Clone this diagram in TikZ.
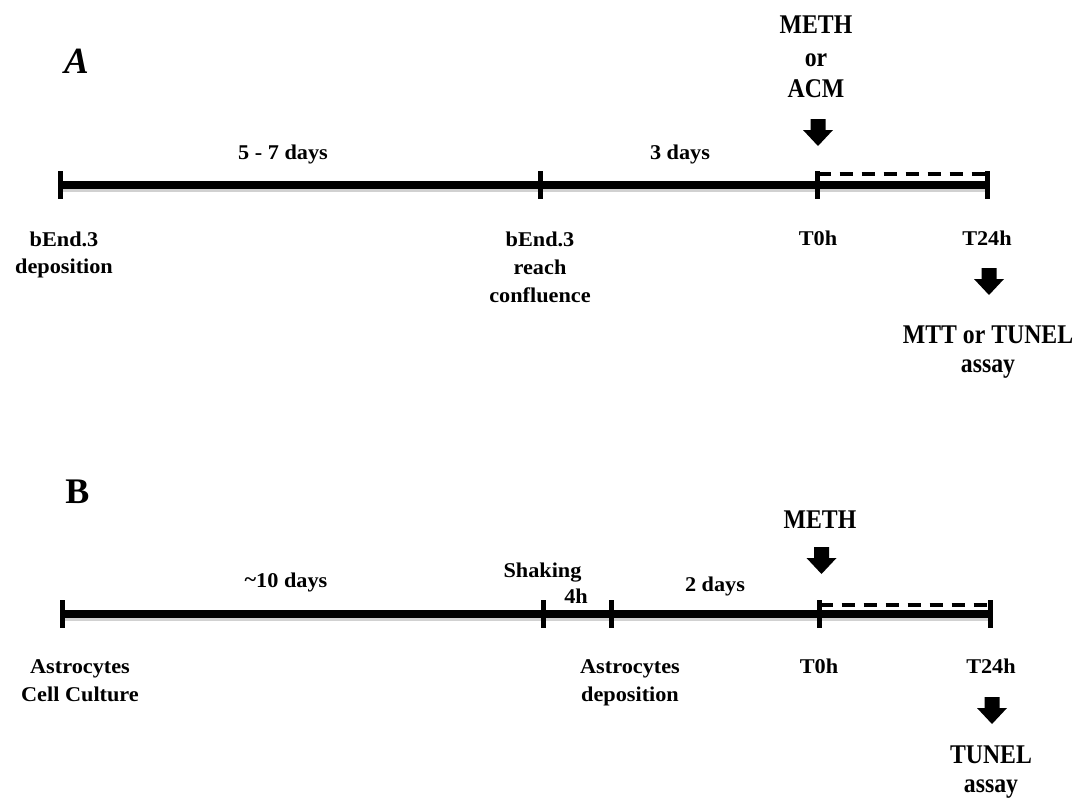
\documentclass[tikz,border=0pt]{standalone}
\usepackage{fontspec}
\setmainfont{Liberation Serif}
\newfontfamily\labfont[FakeStretch=1.06]{Liberation Serif}
\newfontfamily\bigfont[FakeStretch=0.88]{Liberation Serif}
\usetikzlibrary{calc}
\tikzset{
  lab/.style={font=\labfont\bfseries\fontsize{21}{25}\selectfont, anchor=base, inner sep=0pt},
  big/.style={font=\bigfont\bfseries\fontsize{27}{32}\selectfont, anchor=base, inner sep=0pt},
  paneltitle/.style={font=\bfseries\fontsize{36}{40}\selectfont, anchor=base, inner sep=0pt},
  mainline/.style={line width=8pt},
  shadowline/.style={line width=8pt, black!18, transform canvas={xshift=1.5pt, yshift=-2.5pt}},
  tickmark/.style={line width=5pt},
  dashline/.style={line width=3.5pt, dash pattern=on 13pt off 9pt},
  barrow/.pic={\fill (-7.5,0) -- (7.5,0) -- (7.5,11) -- (15,11) -- (0,27) -- (-15,11) -- (-7.5,11) -- cycle;}
}
\begin{document}
\begin{tikzpicture}[x=1pt, y=-1pt]
\useasboundingbox (0,0) rectangle (1077,798);
% ---------------- Panel A ----------------
\node[paneltitle, font=\bfseries\itshape\fontsize{37}{40}\selectfont] (titleA) at (76.5,73) {A};
\coordinate (a0) at (60,185);
\coordinate (a1) at (540,185);
\coordinate (a2) at (817.5,185);
\coordinate (a3) at (987.5,185);
\draw[shadowline] (a0) -- (a3);
\draw[mainline] (a0) -- (a3);
\foreach \p in {a0,a1,a2,a3}{
  \draw[tickmark] ([yshift=14pt]\p) -- ([yshift=-14pt]\p);
}
\draw[dashline] ([yshift=11pt]a2) -- ([yshift=11pt]a3);
\node[lab] (dA1) at (283,159) {5 - 7 days};
\node[lab] (dA2) at (680,159) {3 days};
\node[big] (mA1) at (816,33) {METH};
\node[big] (mA2) at (816,66) {or};
\node[big] (mA3) at (816,97) {ACM};
\pic at (818,119) {barrow};
\node[lab] (lA0a) at (64,246) {bEnd.3};
\node[lab] (lA0b) at (64,273) {deposition};
\node[lab] (lA1a) at (540,246) {bEnd.3};
\node[lab] (lA1b) at (540,274) {reach};
\node[lab] (lA1c) at (540,302) {confluence};
\node[lab] (lA2) at (818,245) {T0h};
\node[lab] (lA3) at (987,245) {T24h};
\pic at (989,268) {barrow};
\node[big] (rA1) at (988,343) {MTT or TUNEL};
\node[big] (rA2) at (988,372) {assay};
% ---------------- Panel B ----------------
\node[paneltitle] (titleB) at (77.5,503) {B};
\coordinate (b0) at (62.5,614);
\coordinate (b1) at (543.5,614);
\coordinate (b2) at (611.5,614);
\coordinate (b3) at (819.5,614);
\coordinate (b4) at (990.5,614);
\draw[shadowline] (b0) -- (b4);
\draw[mainline] (b0) -- (b4);
\foreach \p in {b0,b1,b2,b3,b4}{
  \draw[tickmark] ([yshift=14pt]\p) -- ([yshift=-14pt]\p);
}
\draw[dashline] ([yshift=9pt]b3) -- ([yshift=9pt]b4);
\node[lab] (dB1) at (286,587) {\raisebox{1pt}{\char`\~}10 days};
\node[lab] (dB2) at (542.5,577) {Shaking};
\node[lab] (dB3) at (576,603) {4h};
\node[lab] (dB4) at (715,591) {2 days};
\node[big] (mB1) at (820,528) {METH};
\pic at (821.5,547) {barrow};
\node[lab] (lB0a) at (80,673) {Astrocytes};
\node[lab] (lB0b) at (80,701) {Cell Culture};
\node[lab] (lB2a) at (630,673) {Astrocytes};
\node[lab] (lB2b) at (630,701) {deposition};
\node[lab] (lB3) at (819,673) {T0h};
\node[lab] (lB4) at (991,673) {T24h};
\pic at (992,697) {barrow};
\node[big] (rB1) at (991,763) {TUNEL};
\node[big] (rB2) at (991,792) {assay};
\end{tikzpicture}
\end{document}
